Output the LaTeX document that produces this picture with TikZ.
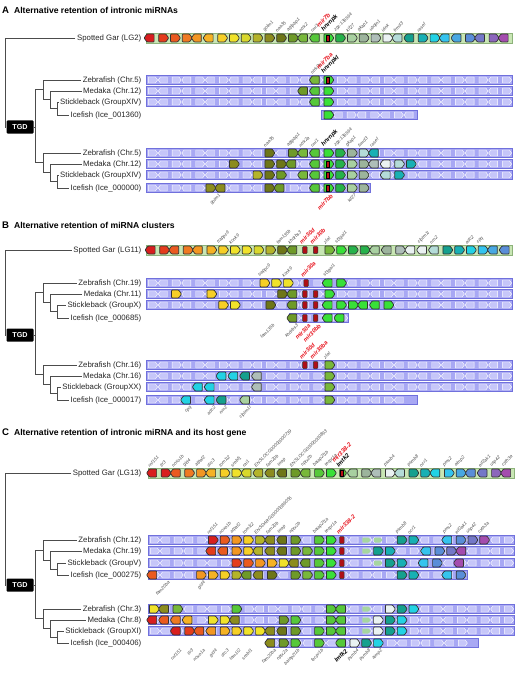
\documentclass[tikz,border=0pt]{standalone}
\usepackage{fontspec}
\setmainfont{Liberation Sans}
\usetikzlibrary{shapes.symbols}
\definecolor{c00}{HTML}{D81E1E}
\definecolor{c01}{HTML}{E43C1C}
\definecolor{c02}{HTML}{EA5A20}
\definecolor{c03}{HTML}{EF7A22}
\definecolor{c04}{HTML}{F29622}
\definecolor{c05}{HTML}{F5B224}
\definecolor{c06}{HTML}{F6CF26}
\definecolor{c07}{HTML}{F0E22A}
\definecolor{c08}{HTML}{D8D82C}
\definecolor{c09}{HTML}{B4B42A}
\definecolor{c10}{HTML}{8C8C1E}
\definecolor{c11}{HTML}{6E7618}
\definecolor{c12}{HTML}{6E9A28}
\definecolor{c13}{HTML}{78B83A}
\definecolor{c14}{HTML}{56C83A}
\definecolor{c15}{HTML}{38E038}
\definecolor{c16}{HTML}{26B24A}
\definecolor{c17}{HTML}{A8D0A0}
\definecolor{c18}{HTML}{9CB49C}
\definecolor{c19}{HTML}{AEBEB8}
\definecolor{c20}{HTML}{EAF2F2}
\definecolor{c21}{HTML}{B4DCD8}
\definecolor{c22}{HTML}{14A08E}
\definecolor{c23}{HTML}{18B0B4}
\definecolor{c24}{HTML}{22D2E4}
\definecolor{c25}{HTML}{34C4EE}
\definecolor{c26}{HTML}{48A8E2}
\definecolor{c27}{HTML}{5A8ED8}
\definecolor{c28}{HTML}{7478C8}
\definecolor{c29}{HTML}{8C66BC}
\definecolor{c30}{HTML}{A44CAE}
\definecolor{mirred}{HTML}{E8141E}
\definecolor{gartrk}{HTML}{C8E6B4}
\definecolor{garline}{HTML}{8DB27A}
\definecolor{btrk}{HTML}{A8A8F4}
\definecolor{bline}{HTML}{7070DC}
\definecolor{bghost}{HTML}{C6C6F9}
\definecolor{faintg}{HTML}{A6D6A0}

\tikzset{
  branch/.style={draw=black!70, line width=0.8pt},
  spl/.style={anchor=east, inner sep=1.5pt, font=\fontsize{7.8}{8}\selectfont, text=black!85},
  ttl/.style={anchor=west, inner sep=0pt, font=\fontsize{8.6}{10}\selectfont\bfseries},
  tgd/.style={fill=black, text=white, font=\fontsize{7.2}{8}\selectfont\bfseries, rounded corners=1pt, minimum width=27pt, minimum height=13pt, inner sep=0pt},
  gene/.style={signal, draw=black!80, line width=0.7pt, minimum width=10pt, minimum height=8pt, inner sep=0pt, signal pointer angle=110, rounded corners=0.8pt},
  ge/.style={signal to=east}, gw/.style={signal to=west},
  ghost/.style={signal, fill=bghost, draw=white, line width=0.4pt, minimum width=9pt, minimum height=6pt, inner sep=0pt, signal pointer angle=110},
  faint/.style={signal, fill=faintg, draw=none, minimum width=8.5pt, minimum height=5pt, inner sep=0pt, rounded corners=0.6pt},
  mirin/.style={rectangle, fill=mirred!80!black, draw=black, line width=0.4pt, minimum width=3pt, minimum height=5.5pt, inner sep=0pt},
  mirna/.style={rectangle, rounded corners=0.8pt, fill=mirred!75!black, draw=black!80, line width=0.5pt, minimum width=4.5pt, minimum height=7pt, inner sep=0pt},
  glab/.style={rotate=45, inner sep=0.3pt, font=\fontsize{4.6}{5}\selectfont\itshape, text=black!70},
  mlab/.style={rotate=45, inner sep=0.3pt, font=\fontsize{5.8}{6}\selectfont\bfseries\itshape, text=mirred},
  hlab/.style={rotate=45, inner sep=0.3pt, font=\fontsize{6}{6.2}\selectfont\bfseries\itshape, text=black, align=left},
}

\newcommand{\gartrack}[3]{\draw[fill=gartrk, draw=garline, line width=0.8pt] (#1,#3-5) rectangle (#2,#3+5);}
\newcommand{\btrack}[4]{%
  \fill[btrk] (#2,#4-4.5) rectangle (#3,#4+4.5);
  \pgfmathtruncatemacro\nk{(#3-#2)/11.8}
  \foreach \k in {1,...,\nk}{
    \ifodd\k\def\gd{ge}\else\def\gd{gw}\fi
    \node[ghost, \gd] (#1-gh\k) at ({#2+6+11.8*(\k-1)},#4) {};}
  \draw[bline, line width=0.7pt] (#2,#4-4.5) rectangle (#3,#4+4.5);}
\newcommand{\genes}[3]{\foreach \gx/\gd/\gc [count=\n] in {#3}
  \node[gene, g\gd, fill=c\gc] (#1-\n) at ({\xz+\dx*\gx},#2) {};}
\newcommand{\mirs}[3]{\foreach \gx [count=\n] in {#3}
  \node[mirna] (#1-mir\n) at ({\xz+\dx*\gx},#2) {};}
\newcommand{\hostmir}[3]{\node[mirin] (#1) at ({\xz+\dx*#2},#3) {};}
\newcommand{\faints}[3]{\foreach \gx [count=\n] in {#3}
  \node[faint] (#1-f\n) at ({\xz+\dx*\gx},#2) {};}
\newcommand{\labup}[3]{\foreach \gx/\lb [count=\n] in {#3}
  \node[glab, anchor=south west] (#1-\n) at ({\xz+\dx*\gx-3},#2-5) {\lb};}
\newcommand{\labdn}[3]{\foreach \gx/\lb [count=\n] in {#3}
  \node[glab, anchor=north east] (#1-\n) at ({\xz+\dx*\gx+3},#2+5) {\lb};}
\newcommand{\clade}[5]{%
  \pgfmathsetmacro\ysi{(#4+#5)/2}
  \pgfmathsetmacro\ymsi{(#3+\ysi)/2}
  \pgfmathsetmacro\yr{(#2+\ymsi)/2}
  \draw[branch] (#1s.west) -- (57,#4) -- (57,#5) -- (#1i.west);
  \draw[branch] (#1m.west) -- (50,#3) -- (50,\ysi) -- (57,\ysi);
  \draw[branch] (#1z.west) -- (43,#2) -- (43,\ymsi) -- (50,\ymsi);
  \coordinate (#1r) at (43,\yr);}

\begin{document}
\begin{tikzpicture}[x=1pt,y=-1pt]
\useasboundingbox (0,0) rectangle (520,674);
\fill[white] (0,0) rectangle (520,674);
\def\dx{11.8}

% A
\def\xz{150.5}
\node[ttl] (ttlA) at (2,10) {{\fontsize{9.6}{10}\selectfont A}\hspace{5pt}Alternative retention of intronic miRNAs};
\node[spl] (gAl) at (143,38) {Spotted Gar (LG2)};
\node[spl] (A1z) at (143,80) {Zebrafish (Chr.5)};
\node[spl] (A1m) at (143,91) {Medaka (Chr.12)};
\node[spl] (A1s) at (143,102) {Stickleback (GroupXIV)};
\node[spl] (A1i) at (143,115) {Icefish (Ice\_001360)};
\node[spl] (A2z) at (143,153) {Zebrafish (Chr.5)};
\node[spl] (A2m) at (143,164) {Medaka (Chr.12)};
\node[spl] (A2s) at (143,175) {Stickleback (GroupXIV)};
\node[spl] (A2i) at (143,188) {Icefish (Ice\_000000)};
\node[tgd] (tgdA) at (20,127) {TGD};
\clade{A1}{80}{91}{102}{115}
\clade{A2}{153}{164}{175}{188}
\draw[branch] (gAl.west) -- (5,38) -- (5,127) -- (tgdA.west);
\draw[branch] (tgdA.east) -- (35,127);
\draw[branch] (A1r) -- ++(-8,0) |- (A2r);

\gartrack{146}{512}{38}
\btrack{A1zt}{146}{512}{80}
\btrack{A1mt}{146}{512}{91}
\btrack{A1st}{146}{512}{102}
\btrack{A1it}{321}{417}{115}
\btrack{A2zt}{146}{512}{153}
\btrack{A2mt}{146}{512}{164}
\btrack{A2st}{146}{512}{175}
\btrack{A2it}{146}{370}{188}

\genes{gA}{38}{0/w/00,1/e/01,2/e/02,3/e/03,4/w/04,5/w/05,6/e/06,7/e/07,8/e/08,9/e/09,10/e/10,11/e/11,12/e/12,13/w/13,14/w/14,15/e/15,16/e/16,17/e/17,18/e/18,19/e/19,20/e/20,21/w/21,22/w/22,23/e/23,24/e/24,25/w/25,26/w/26,27/e/27,28/w/28,29/e/29,30/w/30}
\hostmir{gAmir}{15}{38}
\genes{zA1}{80}{14/w/13,15/e/15}
\hostmir{zA1mir}{15}{80}
\genes{mA1}{91}{13/w/12,14/w/14,15/e/15}
\genes{sA1}{102}{14/w/14,15/e/15}
\genes{iA1}{115}{15/e/15}
\genes{zA2}{153}{10/e/11,12/e/12,13/w/13,14/w/14,15/e/15,16/e/16,17/e/18,18/e/21,19/w/23}
\genes{mA2}{164}{7/e/10,10/e/11,11/e/11,12/w/12,14/w/14,15/e/15,16/e/16,17/e/17,18/e/18,19/w/19,20/w/20,21/e/21,22/e/23}
\hostmir{mA2mir}{15}{164}
\genes{sA2}{175}{9/e/09,10/e/11,11/e/12,13/w/13,14/w/14,15/e/15,16/e/16,17/e/17,18/e/18,20/w/21,21/e/23}
\hostmir{sA2mir}{15}{175}
\genes{iA2}{188}{5/e/10,6/w/10,10/e/11,11/w/12,14/w/14,15/e/15,16/e/16,17/e/17,18/e/18}
\hostmir{iA2mir}{15}{188}

\labup{lgA}{38}{10/golm1,11/naa35,12/agtpbp1,13/ntrk2,14/rmi1,16/zgc:136564,17/kif27,18/gkap1,19/ubqln1,20/idnk,21/frmd3,23/rasef}
\node[hlab, anchor=south west] (hgA) at ({\xz+\dx*15-3},33) {\textcolor{mirred}{mir7b}\\hnrnpk};
\labup{lzA1}{80}{14/ntrk2b}
\node[hlab, anchor=south west] (hzA1) at ({\xz+\dx*15-3},75) {\textcolor{mirred}{mir7ba}\\hnrnpkl};
\labup{lzA2}{153}{10/naa35,12/agtpbp1,13/ntrk2a,14/rmi1,16/zgc:136564,17/gkap1,18/frmd3,19/rasef}
\node[hlab, anchor=south west] (hzA2) at ({\xz+\dx*15-3},148) {hnrnpk};
\labdn{liA2}{188}{5.5/golm1,17/kif27}
\node[mlab, anchor=north east] (miA2) at ({\xz+\dx*15+3},193) {mir7bb};

% B
\def\xz{151.5}
\node[ttl] (ttlB) at (2,225) {{\fontsize{9.6}{10}\selectfont B}\hspace{5pt}Alternative retention of miRNA clusters};
\node[spl] (gBl) at (143,250) {Spotted Gar (LG11)};
\node[spl] (B1z) at (143,283) {Zebrafish (Chr.19)};
\node[spl] (B1m) at (143,294) {Medaka (Chr.11)};
\node[spl] (B1s) at (143,305) {Stickleback (GroupX)};
\node[spl] (B1i) at (143,318) {Icefish (Ice\_000685)};
\node[spl] (B2z) at (143,365) {Zebrafish (Chr.16)};
\node[spl] (B2m) at (143,376) {Medaka (Chr.16)};
\node[spl] (B2s) at (143,387) {Stickleback (GroupXX)};
\node[spl] (B2i) at (143,400) {Icefish (Ice\_000017)};
\node[tgd] (tgdB) at (20,335) {TGD};
\clade{B1}{283}{294}{305}{318}
\clade{B2}{365}{376}{387}{400}
\draw[branch] (gBl.west) -- (5,250) -- (5,335) -- (tgdB.west);
\draw[branch] (tgdB.east) -- (35,335);
\draw[branch] (B1r) -- ++(-8,0) |- (B2r);

\gartrack{146}{512}{250}
\btrack{B1zt}{146}{512}{283}
\btrack{B1mt}{146}{512}{294}
\btrack{B1st}{146}{512}{305}
\btrack{B1it}{289}{348}{318}
\btrack{B2zt}{146}{512}{365}
\btrack{B2mt}{146}{512}{376}
\btrack{B2st}{146}{512}{387}
\btrack{B2it}{146}{417}{400}

\genes{gB}{250}{0/w/00,1/e/01,2/w/02,3/e/03,4/w/04,5/e/05,6/e/06,7/e/07,8/e/07,9/e/08,10/e/09,11/e/11,12/w/12,15/e/13,16/e/15,17/e/16,18/e/16,19/w/17,20/w/18,21/e/19,22/w/20,23/w/20,24/w/21,25/e/22,26/e/23,27/e/24,28/e/25,29/w/26,30/w/27}
\mirs{gB}{250}{13,13.9}
\genes{zB1}{283}{9.5/e/06,10.5/e/07,11.5/e/07,15/w/15,16/e/15}
\mirs{zB1}{283}{13.1}
\genes{mB1}{294}{2/e/06,5/e/06,11/e/11,12/w/12,15/e/15}
\mirs{mB1}{294}{13,13.9}
\genes{sB1}{305}{6/e/06,7/e/07,10/e/11,12/w/12,15/w/15,16/e/15,17/e/15,18/w/15,19/w/15,20/e/15}
\mirs{sB1}{305}{13,13.9}
\genes{iB1}{318}{12/w/12,15/w/15,16/w/15}
\mirs{iB1}{318}{13,13.9}
\genes{zB2}{365}{15/e/13}
\mirs{zB2}{365}{13,13.9}
\genes{mB2}{376}{6/w/24,7/w/24,8/w/22,9/w/19,15/e/13}
\genes{sB2}{387}{4/w/24,5/w/24,9/w/19,15/e/13}
\genes{iB2}{400}{3/w/24,5/w/24,6/w/22,8/w/17,15/e/13}

\labup{lgB}{250}{6/trappc9,7/kcnk9,11/fam135b,12/khdrbs3,15/zfat,16/st3gal1,23/clptm1l,24/nrn2,27/adc2,28/cpq}
\node[mlab, anchor=south west] (mgB1) at ({\xz+\dx*13-3},245) {mir30d};
\node[mlab, anchor=south west] (mgB2) at ({\xz+\dx*13.9-3},245) {mir30b};
\labup{lzB1}{283}{9.5/trappc9,11.5/kcnk9,15/st3gal1}
\node[mlab, anchor=south west] (mzB1) at ({\xz+\dx*13.1-3},278) {mir30a};
\labdn{liB1}{318}{10/fam135b,12/khdrbs3}
\node[mlab, anchor=north east] (miB1a) at ({\xz+\dx*13+3},323) {mir30a};
\node[mlab, anchor=north east] (miB1b) at ({\xz+\dx*13.9+3},323) {mir30bb};
\labup{lzB2}{365}{15/zfat}
\node[mlab, anchor=south west] (mzB2a) at ({\xz+\dx*13-3},360) {mir30d};
\node[mlab, anchor=south west] (mzB2b) at ({\xz+\dx*13.9-3},360) {mir30ba};
\labdn{liB2}{400}{3/cpq,5/adc2,6/nrn2,8/clptm1l}

% C
\def\xz{153}
\node[ttl] (ttlC) at (2,433) {{\fontsize{9.6}{10}\selectfont C}\hspace{5pt}Alternative retention of intronic miRNA and its host gene};
\node[spl] (gCl) at (143,473) {Spotted Gar (LG13)};
\node[spl] (C1z) at (143,540) {Zebrafish (Chr.12)};
\node[spl] (C1m) at (143,551) {Medaka (Chr.19)};
\node[spl] (C1s) at (143,563) {Stickleback (GroupV)};
\node[spl] (C1i) at (143,575) {Icefish (Ice\_000275)};
\node[spl] (C2z) at (143,609) {Zebrafish (Chr.3)};
\node[spl] (C2m) at (143,620) {Medaka (Chr.8)};
\node[spl] (C2s) at (143,631) {Stickleback (GroupXI)};
\node[spl] (C2i) at (143,643) {Icefish (Ice\_000406)};
\node[tgd] (tgdC) at (20,585) {TGD};
\clade{C1}{540}{551}{563}{575}
\clade{C2}{609}{620}{631}{643}
\draw[branch] (gCl.west) -- (5,473) -- (5,585) -- (tgdC.west);
\draw[branch] (tgdC.east) -- (35,585);
\draw[branch] (C1r) -- ++(-8,0) |- (C2r);

\gartrack{148}{514}{473}
\btrack{C1zt}{148}{514}{540}
\btrack{C1mt}{148}{514}{551}
\btrack{C1st}{148}{514}{563}
\btrack{C1it}{148}{467}{575}
\btrack{C2zt}{148}{514}{609}
\btrack{C2mt}{148}{514}{620}
\btrack{C2st}{148}{514}{631}
\btrack{C2it}{267}{478}{643}

\genes{gC}{473}{0/w/00,1/e/00,2/w/02,3/e/03,4/e/04,5/w/05,6/e/06,7/e/07,8/w/08,9/w/09,10/w/10,11/w/11,12/e/12,13/w/13,14/e/14,15/e/15,17/w/17,18/e/18,19/w/19,20/e/20,21/w/21,22/e/22,23/e/23,24/w/24,25/e/25,26/e/26,27/w/27,28/w/28,29/e/29,30/w/30}
\node[gene, ge, fill=c14, minimum width=7pt] (gClmtk) at ({\xz+\dx*16},473) {};
\hostmir{gCmir}{16}{473}
\genes{zC1}{540}{5/e/00,6/e/02,7/e/04,8/e/06,9/e/09,10/w/10,11/w/11,12/e/12,14/e/14,15/e/15,21/e/22,22/e/23,25/w/25,26/e/27,27/e/28,28/e/30}
\mirs{zC1}{540}{16}
\faints{zC1}{540}{18,19}
\genes{mC1}{551}{5/w/01,6/w/02,7/e/04,8/e/06,9/w/09,10/w/10,11/w/11,12/e/12,13/e/13,14/e/14,15/e/15,19/e/22,20/e/23,23.2/w/25,24.2/e/27,25.2/e/28,26.2/w/30}
\mirs{mC1}{551}{16}
\faints{mC1}{551}{18}
\genes{sC1}{563}{7/e/01,8/e/02,9/e/04,10/e/05,11/e/07,12/w/10,13/w/12,14/e/14,15/e/15,20/e/22,21/e/23,23/w/25,24/e/27,26/w/30}
\mirs{sC1}{563}{16}
\faints{sC1}{563}{19}
\genes{iC1}{575}{0/w/02,4/e/04,5/e/05,6/e/06,7/e/09,8/w/12,9/w/10,10/e/11,12/e/12,13/e/13,14/e/14,15/e/15,21/e/22,22/e/23,25/w/25,26/e/27}
\mirs{iC1}{575}{16}
\genes{zC2}{609}{0/e/07,1/w/10,2/e/13,7/e/14,15/e/14,16/w/14,20/e/20,21/e/22,22/e/24}
\faints{zC2}{609}{18}
\genes{mC2}{620}{0/w/00,1/w/02,2/w/03,3/w/05,5/e/07,6/e/07,7/w/10,11/e/12,12/e/14,15/e/14,16/w/14,19/e/20,20/e/22,21/e/24}
\faints{mC2}{620}{18}
\genes{sC2}{631}{2/w/00,3/e/01,4/w/02,5/w/04,6/e/05,7/e/06,8/e/07,9/e/07,10/w/10,11/w/11,12/e/12,14/e/14,15/e/14,16/w/14,19/e/20,20/e/22,21/e/24}
\faints{sC2}{631}{18}
\genes{iC2}{643}{10/w/10,11/e/12,12/e/14,14/e/14,16/w/14,17/e/20,18/e/22,19/e/24}

\labup{lgC}{473}{0/rnf151,1/tlr3,2/noxo1b,3/gid4,4/atpaf2,5/drc3,6/tom1l2,7/srebf1,8/rai1,9/ENSLOCG00000000739,10/fam20b,11/trrap,12/ENSLOCG00000000893,13/nptx2b,14/baiap2l1b,15/tecpr1a,20/psmb4,22/psmb8,23/ocr1,25/pms2,26/aimp2,28/eif2ak1,29/usp42,30/cyth3a}
\node[hlab, anchor=south west] (hgC) at ({\xz+\dx*16-3},468) {\textcolor{mirred}{mir338-2}\\lmtk2};
\labup{lzC1}{540}{5/rnf151,6/noxo1b,7/atpaf2,8/tom1l2,9/ENSDARG00000086055,10/fam20b,11/trrap,12/nptx2b,14/baiap2l1a,15/tecpr1a,21/psmb8,22/ocr1,25/pms2,26/eif2ak1,27/usp42,28/cyth3a}
\node[mlab, anchor=south west] (mzC1) at ({\xz+\dx*16-3},535) {mir338-2};
\labdn{liC1}{575}{1/fam20ba,4/gid4}
\labdn{liC2}{643}{2/rnf151,3/tlr3,4/noxo1a,5/gid4,6/drc3,7/tom1l2,8/srebf1,10/fam20ba,11/nptx2a,12/baiap2l1b,14/tecpr1b,17/psmb4,18/psmb8,19/aimp2}
\node[hlab, anchor=north east] (hiC2) at ({\xz+\dx*16+3},648) {lmtk2};
\end{tikzpicture}
\end{document}
